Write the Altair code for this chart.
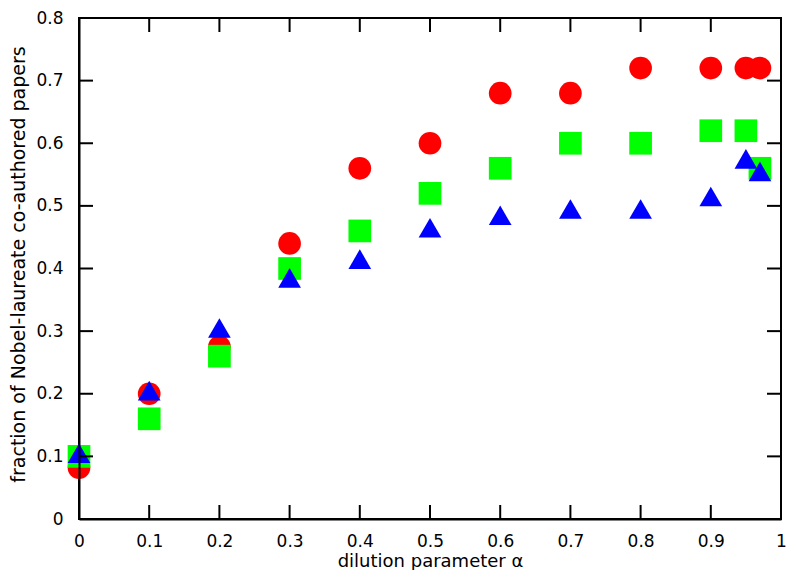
import altair as alt
import pandas as pd

alpha = [0, 0.1, 0.2, 0.3, 0.4, 0.5, 0.6, 0.7, 0.8, 0.9, 0.95, 0.97]
red_circles = [0.082, 0.20, 0.275, 0.44, 0.56, 0.60, 0.68, 0.68, 0.72, 0.72, 0.72, 0.72]
green_squares = [0.10, 0.16, 0.26, 0.40, 0.46, 0.52, 0.56, 0.60, 0.60, 0.62, 0.62, 0.56]
blue_triangles = [0.105, 0.205, 0.305, 0.385, 0.415, 0.465, 0.485, 0.495, 0.495, 0.515, 0.575, 0.555]

series_names = ["red", "green", "blue"]
series_colors = ["#ff0000", "#00ff00", "#0000ff"]
series_shapes = ["circle", "square", "triangle-up"]

x_ticks = [0, 0.1, 0.2, 0.3, 0.4, 0.5, 0.6, 0.7, 0.8, 0.9, 1]
y_ticks = [0, 0.1, 0.2, 0.3, 0.4, 0.5, 0.6, 0.7, 0.8]
x_inner = [0.1, 0.2, 0.3, 0.4, 0.5, 0.6, 0.7, 0.8, 0.9]
y_inner = [0.1, 0.2, 0.3, 0.4, 0.5, 0.6, 0.7]

W, H = 702, 501
TICK = 14
FONT = "DejaVu Sans"

rows = []
for name, vals in zip(series_names, [red_circles, green_squares, blue_triangles]):
    for a, v in zip(alpha, vals):
        rows.append({"series": name, "alpha": a, "frac": v})
df = pd.DataFrame(rows)

xscale = alt.Scale(domain=[0, 1], nice=False, zero=False)
yscale = alt.Scale(domain=[0, 0.8], nice=False, zero=False)

x_axis = alt.Axis(
    values=x_ticks, format="~g", ticks=False, tickSize=0, grid=False,
    labelPadding=14, labelFont=FONT, labelFontSize=17, labelColor="black",
    labelFlush=False, labelOverlap=False,
    domain=True, domainColor="black", domainWidth=2, zindex=1,
    title="dilution parameter α", titleFont=FONT, titleFontSize=18,
    titleFontWeight="normal", titleColor="black",
    titleX=W / 2, titleY=47, titleAlign="center", titleBaseline="alphabetic",
)
y_axis = alt.Axis(
    values=y_ticks, format="~g", ticks=False, tickSize=0, grid=False,
    labelPadding=16, labelFont=FONT, labelFontSize=17, labelColor="black",
    labelFlush=False, labelOverlap=False,
    domain=True, domainColor="black", domainWidth=2, zindex=1,
    title="fraction of Nobel-laureate co-authored papers", titleFont=FONT,
    titleFontSize=19, titleFontWeight="normal", titleColor="black",
    titleAngle=-90, titleX=-55, titleY=246, titleAlign="center",
    titleBaseline="alphabetic",
)

points = alt.Chart(df).mark_point(filled=True, opacity=1, size=515, strokeWidth=0).encode(
    x=alt.X("alpha:Q", scale=xscale, axis=x_axis),
    y=alt.Y("frac:Q", scale=yscale, axis=y_axis),
    color=alt.Color("series:N", scale=alt.Scale(domain=series_names, range=series_colors), legend=None),
    shape=alt.Shape("series:N", scale=alt.Scale(domain=series_names, range=series_shapes), legend=None),
)

xt = pd.DataFrame({"t": x_inner})
yt = pd.DataFrame({"t": y_inner})

bottom_ticks = alt.Chart(xt).mark_rule(color="black", strokeWidth=2).encode(
    x=alt.X("t:Q", scale=xscale, axis=x_axis), y=alt.value(H), y2=alt.value(H - TICK))
top_ticks = alt.Chart(xt).mark_rule(color="black", strokeWidth=2).encode(
    x=alt.X("t:Q", scale=xscale, axis=x_axis), y=alt.value(0), y2=alt.value(TICK))
left_ticks = alt.Chart(yt).mark_rule(color="black", strokeWidth=2).encode(
    y=alt.Y("t:Q", scale=yscale, axis=y_axis), x=alt.value(0), x2=alt.value(TICK))
right_ticks = alt.Chart(yt).mark_rule(color="black", strokeWidth=2).encode(
    y=alt.Y("t:Q", scale=yscale, axis=y_axis), x=alt.value(W - TICK), x2=alt.value(W))

chart = alt.layer(points, bottom_ticks, top_ticks, left_ticks, right_ticks).properties(
    width=W, height=H,
    autosize=alt.AutoSizeParams(type="none"),
    padding={"left": 71, "top": 10, "right": 5, "bottom": 51},
    background="white",
).configure_view(stroke="black", strokeWidth=2)

chart.save("out.html", embed_options={"renderer": "svg", "actions": False})
